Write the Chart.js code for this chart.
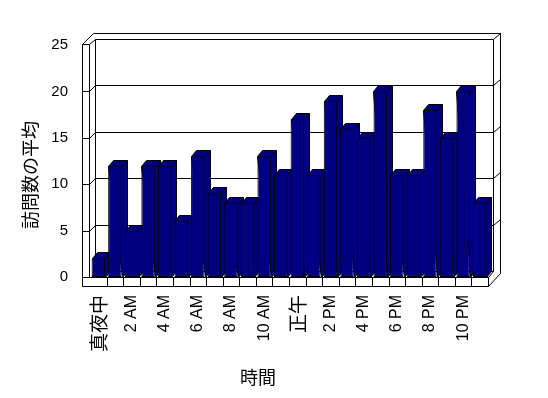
<!DOCTYPE html>
<html>
<head>
<meta charset="utf-8">
<script src="https://cdn.jsdelivr.net/npm/chart.js@4.4.1/dist/chart.umd.min.js"></script>
<style>
  html, body { margin: 0; padding: 0; background: #fff; }
</style>
</head>
<body>
<canvas id="grafica" width="548" height="398"></canvas>
<script>
const hours = ["真夜中", "1 AM", "2 AM", "3 AM", "4 AM", "5 AM", "6 AM", "7 AM", "8 AM", "9 AM", "10 AM", "11 AM",
               "正午", "1 PM", "2 PM", "3 PM", "4 PM", "5 PM", "6 PM", "7 PM", "8 PM", "9 PM", "10 PM", "11 PM"];
const visitAvg = [2, 12, 5, 12, 12, 6, 13, 9, 8, 8, 13, 11, 17, 11, 19, 16, 15, 20, 11, 11, 18, 15, 20, 8];
const yTicks = [0, 5, 10, 15, 20, 25];
const xTitle = "時間";
const yTitle = "訪問数の平均";

const NAVY = "#000080";
const LATIN = "'Liberation Sans', Arial, sans-serif";
const CJK = "'Noto Sans CJK JP', sans-serif";

function line(ctx, x1, y1, x2, y2) {
  ctx.beginPath();
  ctx.moveTo(Math.round(x1) + 0.5, Math.round(y1) + 0.5);
  ctx.lineTo(Math.round(x2) + 0.5, Math.round(y2) + 0.5);
  ctx.stroke();
}

// paredes, suelo y rejilla en 3D + caras laterales de las barras
const efecto3d = {
  id: "efecto3d",
  beforeDatasetsDraw(chart) {
    const { ctx, chartArea: a, scales } = chart;
    const L = a.left, R = a.right, T = a.top, B = a.bottom;
    ctx.save();
    ctx.strokeStyle = "#000";
    ctx.lineWidth = 1;

    // pared izquierda
    line(ctx, L - 8, T - 1, L - 8, B + 9);
    line(ctx, L - 1, T - 1, L - 1, B);
    line(ctx, L - 8, T - 1, L - 1, T - 1);
    line(ctx, L - 8, T - 1, L + 3, T - 12);
    line(ctx, L - 1, T - 1, L + 5, T - 6);

    // pared del fondo
    line(ctx, L + 3, T - 12, R + 12, T - 12);
    line(ctx, L + 5, T - 6, R + 5, T - 6);
    line(ctx, L + 5, T - 6, L + 5, B - 6);
    line(ctx, R + 5, T - 6, R + 5, B - 6);
    line(ctx, R + 12, T - 12, R + 12, B - 4);
    line(ctx, R + 5, T - 6, R + 12, T - 12);
    line(ctx, L + 5, B - 6, R + 5, B - 6);

    // rejilla
    yTicks.filter(v => v > 0 && v < 25).forEach(v => {
      const yf = scales.y.getPixelForValue(v);
      line(ctx, L - 8, yf, L - 1, yf);
      line(ctx, L - 1, yf, L + 5, yf - 6);
      line(ctx, L + 5, yf - 6, R + 5, yf - 6);
      line(ctx, R + 5, yf - 6, R + 12, yf - 12);
    });

    // suelo
    line(ctx, L - 8, B, R, B);
    line(ctx, L - 8, B + 9, R, B + 9);
    line(ctx, R, B, R, B + 9);
    line(ctx, R, B + 9, R + 12, B - 4);
    line(ctx, R, B, R + 5, B - 6);
    const step = (R - L) / hours.length;
    for (let k = 1; k < hours.length; k++) {
      const xs = scales.x.getPixelForValue(k) - step / 2;
      line(ctx, xs, B, xs, B + 9);
    }

    // caras superior y lateral de cada barra
    const bx = 5, by = 6;
    chart.getDatasetMeta(0).data.forEach(bar => {
      const p = bar.getProps(["x", "y", "base", "width"], true);
      const l = Math.round(p.x - p.width / 2), r = Math.round(p.x + p.width / 2);
      const t = Math.round(p.y), b = Math.round(p.base);
      ctx.fillStyle = NAVY;
      ctx.beginPath();
      ctx.moveTo(l + 0.5, t + 0.5);
      ctx.lineTo(l + bx + 0.5, t - by + 0.5);
      ctx.lineTo(r + bx + 0.5, t - by + 0.5);
      ctx.lineTo(r + bx + 0.5, b - by + 0.5);
      ctx.lineTo(r + 0.5, b + 0.5);
      ctx.closePath();
      ctx.fill();
      ctx.stroke();
      line(ctx, r, t, r + bx, t - by);
    });
    ctx.restore();
  },
  afterDraw(chart) {
    const { ctx } = chart;
    ctx.save();
    ctx.fillStyle = "#000";
    ctx.font = "18px " + CJK;
    ctx.textAlign = "center";
    ctx.textBaseline = "middle";
    ctx.fillText(xTitle, 258, 377);
    ctx.translate(30, 175);
    ctx.rotate(-Math.PI / 2);
    ctx.fillText(yTitle, 0, 0);
    ctx.restore();
  }
};

new Chart(document.getElementById("grafica"), {
  type: "bar",
  data: {
    labels: hours,
    datasets: [{
      label: yTitle,
      data: visitAvg,
      backgroundColor: NAVY,
      borderColor: "#000",
      borderWidth: 1,
      borderSkipped: false,
      barPercentage: 0.81,
      categoryPercentage: 1.0
    }]
  },
  options: {
    responsive: false,
    animation: false,
    devicePixelRatio: 1,
    layout: { padding: { top: 45, right: 60, left: 0, bottom: 0 } },
    plugins: {
      legend: { display: false },
      tooltip: { enabled: false }
    },
    scales: {
      x: {
        grid: { display: false, drawTicks: false },
        border: { display: false },
        ticks: {
          autoSkip: false,
          maxRotation: 90,
          minRotation: 90,
          padding: 18,
          color: "#000",
          font: ctx => /[A-Z0-9]/.test(hours[ctx.index])
            ? { family: LATIN, size: 16 }
            : { family: CJK, size: 19 },
          callback: (v, i) => (i % 2 === 0 ? hours[i] : "")
        },
        afterFit: s => { s.height = 121; }
      },
      y: {
        min: 0,
        max: 25,
        grid: { display: false, drawTicks: false },
        border: { display: false },
        ticks: {
          stepSize: 5,
          padding: 22,
          color: "#000",
          font: { family: LATIN, size: 15 }
        },
        afterFit: s => { s.width = 90; }
      }
    }
  },
  plugins: [efecto3d]
});
</script>
</body>
</html>
